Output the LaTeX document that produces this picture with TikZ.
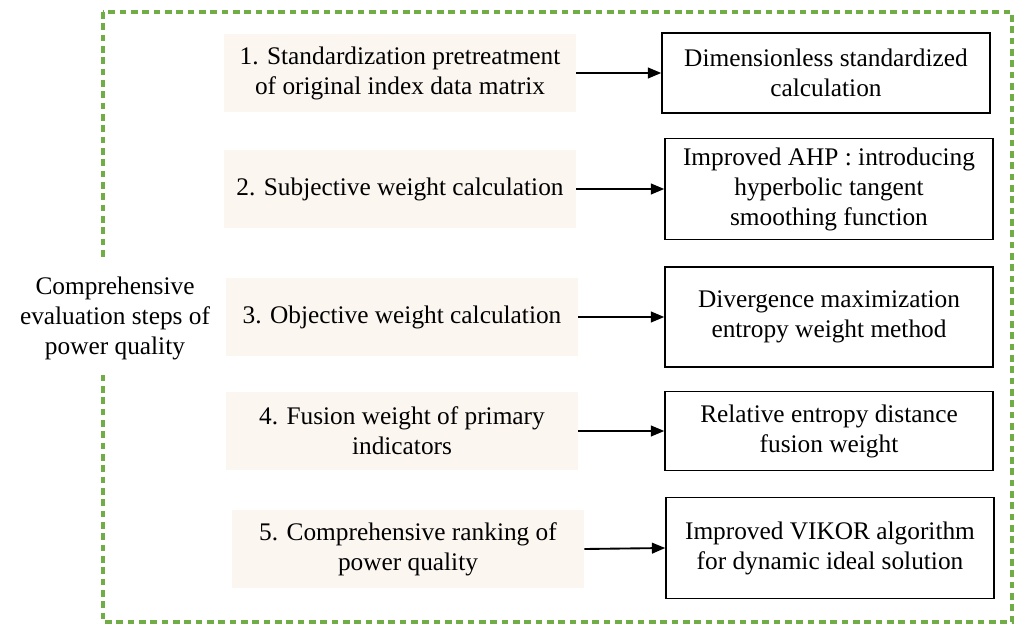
\documentclass[tikz,border=0pt]{standalone}
\usepackage{fontspec}
\setmainfont{Liberation Serif}
\usepackage{tikz}
\usetikzlibrary{arrows.meta}

\definecolor{stepfill}{RGB}{252,246,241}
\definecolor{framegreen}{RGB}{112,173,71}

\tikzset{
  stepbox/.style={fill=stepfill, minimum width=264pt, minimum height=59pt, align=center, inner sep=0pt},
  resultbox/.style={draw, line width=1.1pt, fill=white, minimum width=246pt, align=center, inner sep=0pt},
  flow/.style={line width=1.4pt, -{Triangle[length=10pt,width=8pt]}}
}

\begin{document}
\begin{tikzpicture}[x=0.75pt, y=-0.75pt, font=\fontsize{19}{22.5}\selectfont]
                \useasboundingbox (0,0) rectangle (1022,631);

                % Frame
                \draw[framegreen, line width=2.6pt, dash pattern=on 5pt off 3.5pt] (103,12) rectangle (1012,622);
                \node[fill=white, align=center, inner sep=1pt, minimum height=85pt] (title) at (115,318)
                  {Comprehensive\\evaluation steps of\\power quality};

                % Steps
                \node[stepbox] (s1) at (400,73) {1. Standardization pretreatment\\of original index data matrix};
                \node[stepbox] (s2) at (400,189) {2. Subjective weight calculation};
                \node[stepbox] (s3) at (402,317) {3. Objective weight calculation};
                \node[stepbox] (s4) at (402,431) {4. Fusion weight of primary\\indicators};
                \node[stepbox] (s5) at (408,549) {5. Comprehensive ranking of\\power quality};

                % Methods
                \node[resultbox, minimum height=60pt] (r1) at (826,73) {Dimensionless standardized\\calculation};
                \node[resultbox, minimum height=75.5pt] (r2) at (829,189) {Improved AHP : introducing\\hyperbolic tangent\\smoothing function};
                \node[resultbox, minimum height=75pt] (r3) at (829,317) {Divergence maximization\\entropy weight method};
                \node[resultbox, minimum height=59pt] (r4) at (829,431) {Relative entropy distance\\fusion weight};
                \node[resultbox, minimum height=75.5pt] (r5) at (830,548) {Improved VIKOR algorithm\\for dynamic ideal solution};

                \foreach \i in {1,...,5}
                  \draw[flow] (s\i.east) -- (r\i.west);
            \end{tikzpicture}
\end{document}
